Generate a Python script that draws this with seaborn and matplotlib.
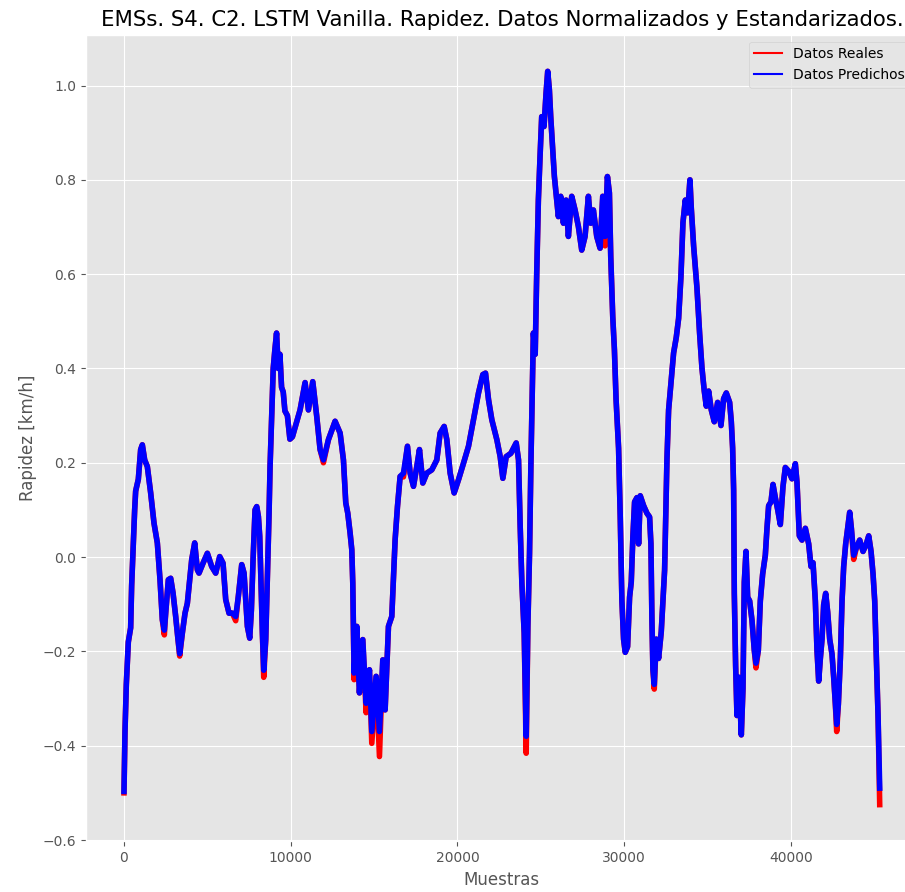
import matplotlib
matplotlib.use("Agg")
import matplotlib.pyplot as plt
import seaborn as sns
import pandas as pd

# Sample index of each traced point
muestras = [
    0, 60, 140, 260, 400, 460, 560, 640, 700, 860, 1000, 1100, 1240, 1400, 1600,
    1800, 2000, 2160, 2300, 2420, 2500, 2660, 2800, 2940, 3100, 3240, 3340, 3500,
    3660, 3800, 3940, 4060, 4240, 4400, 4500, 4740, 5000, 5260, 5500, 5740, 5940,
    6100, 6300, 6500, 6700, 6860, 7060, 7200, 7300, 7400, 7540, 7640, 7740, 7860,
    7960, 8060, 8140, 8220, 8300, 8380, 8500, 8600, 8700, 8760, 8860, 8950, 9050,
    9150, 9250, 9350, 9450, 9550, 9650, 9800, 9950, 10100, 10300, 10560, 10860,
    11060, 11320, 11560, 11760, 11960, 12260, 12660, 12960, 13160, 13300, 13420,
    13560, 13660, 13720, 13800, 13960, 14120, 14320, 14520, 14720, 14860, 15120,
    15320, 15520, 15660, 15860, 16060, 16260, 16400, 16560, 16760, 17000, 17160,
    17360, 17560, 17720, 17920, 18160, 18460, 18760, 18960, 19200, 19360, 19560,
    19800, 20060, 20360, 20660, 20960, 21260, 21520, 21680, 21860, 22060, 22360,
    22560, 22720, 22920, 23200, 23520, 23660, 23760, 23860, 24000, 24120, 24220,
    24320, 24400, 24550, 24660, 24750, 24850, 24950, 25050, 25190, 25310, 25410,
    25510, 25590, 25710, 25810, 25910, 26050, 26190, 26350, 26510, 26650, 26850,
    27050, 27250, 27450, 27650, 27850, 27990, 28150, 28350, 28550, 28710, 28850,
    28990, 29110, 29190, 29310, 29410, 29510, 29660, 29760, 29860, 29960, 30060,
    30200, 30320, 30420, 30520, 30620, 30760, 30860, 30960, 31160, 31360, 31520,
    31600, 31660, 31720, 31800, 31920, 32060, 32220, 32320, 32420, 32500, 32560,
    32660, 32800, 32960, 33120, 33260, 33400, 33520, 33660, 33800, 33940, 34020,
    34160, 34360, 34520, 34660, 34800, 34920, 35060, 35220, 35400, 35600, 35800,
    35960, 36120, 36320, 36420, 36500, 36560, 36600, 36680, 36760, 36880, 37020,
    37120, 37200, 37300, 37400, 37520, 37660, 37800, 37900, 38040, 38160, 38300,
    38460, 38560, 38660, 38800, 38920, 39060, 39200, 39360, 39520, 39660, 39860,
    40060, 40260, 40360, 40500, 40660, 40860, 41060, 41200, 41320, 41460, 41560,
    41660, 41760, 41860, 41960, 42080, 42200, 42320, 42460, 42560, 42660, 42740,
    42840, 42960, 43060, 43160, 43280, 43400, 43520, 43620, 43760, 43920, 44120,
    44320, 44520, 44660, 44800, 44920, 45020, 45120, 45220, 45320,
]

# Model output (normalised speed)
predichos = [
    -0.497, -0.37, -0.27, -0.18, -0.15, -0.06, 0.03, 0.10, 0.14, 0.165, 0.228,
    0.238, 0.206, 0.192, 0.136, 0.072, 0.03, -0.048, -0.133, -0.155, -0.119,
    -0.048, -0.045, -0.076, -0.126, -0.175, -0.205, -0.161, -0.119, -0.098,
    -0.048, -0.006, 0.03, -0.027, -0.034, -0.013, 0.008, -0.02, -0.034, 0.001,
    -0.013, -0.09, -0.119, -0.119, -0.126, -0.083, -0.016, -0.034, -0.09,
    -0.147, -0.172, -0.112, -0.006, 0.10, 0.107, 0.086, 0.044, -0.062, -0.161,
    -0.24, -0.175, -0.041, 0.093, 0.192, 0.30, 0.40, 0.44, 0.475, 0.40, 0.43,
    0.36, 0.35, 0.31, 0.30, 0.25, 0.255, 0.28, 0.312, 0.37, 0.312, 0.372, 0.298,
    0.228, 0.206, 0.249, 0.288, 0.263, 0.206, 0.115, 0.093, 0.051, 0.016,
    -0.055, -0.246, -0.147, -0.288, -0.175, -0.31, -0.239, -0.37, -0.253, -0.37,
    -0.218, -0.324, -0.147, -0.126, 0.037, 0.107, 0.171, 0.178, 0.235, 0.178,
    0.150, 0.192, 0.228, 0.157, 0.178, 0.185, 0.206, 0.263, 0.277, 0.249, 0.178,
    0.136, 0.164, 0.199, 0.235, 0.291, 0.348, 0.387, 0.39, 0.334, 0.291, 0.249,
    0.213, 0.167, 0.213, 0.22, 0.242, 0.206, 0.065, -0.055, -0.161, -0.38,
    -0.147, 0.008, 0.192, 0.475, 0.43, 0.60, 0.757, 0.849, 0.934, 0.913, 0.983,
    1.03, 0.991, 0.934, 0.863, 0.807, 0.772, 0.722, 0.765, 0.708, 0.757, 0.68,
    0.765, 0.736, 0.701, 0.651, 0.68, 0.765, 0.708, 0.736, 0.68, 0.655, 0.765,
    0.68, 0.807, 0.772, 0.637, 0.51, 0.44, 0.334, 0.231, 0.085, -0.093, -0.174,
    -0.202, -0.19, -0.085, -0.053, 0.045, 0.117, 0.126, 0.028, 0.13, 0.109,
    0.093, 0.085, 0.028, -0.134, -0.239, -0.27, -0.174, -0.215, -0.158, -0.093,
    -0.028, 0.109, 0.206, 0.312, 0.368, 0.433, 0.466, 0.506, 0.595, 0.709,
    0.757, 0.73, 0.80, 0.74, 0.66, 0.571, 0.474, 0.401, 0.352, 0.32, 0.352,
    0.312, 0.287, 0.328, 0.279, 0.336, 0.348, 0.328, 0.287, 0.231, 0.142,
    -0.077, -0.231, -0.336, -0.255, -0.377, -0.279, -0.053, 0.012, -0.085,
    -0.093, -0.134, -0.198, -0.225, -0.198, -0.093, -0.036, 0.004, 0.061, 0.109,
    0.117, 0.154, 0.126, 0.101, 0.069, 0.15, 0.19, 0.182, 0.166, 0.198, 0.158,
    0.045, 0.036, 0.061, 0.028, -0.02, -0.012, -0.093, -0.198, -0.263, -0.215,
    -0.174, -0.101, -0.077, -0.117, -0.174, -0.206, -0.255, -0.312, -0.355,
    -0.312, -0.215, -0.093, -0.02, 0.028, 0.061, 0.095, 0.061, 0.004, 0.02,
    0.036, 0.012, 0.028, 0.045, 0.012, -0.036, -0.093, -0.215, -0.336, -0.49,
]

# Measured values (normalised speed); they only part from the model at the dips
reales = list(predichos)
_dips = {
    0: -0.50, 2420: -0.165, 3340: -0.21, 6700: -0.135, 8380: -0.255,
    11960: 0.20, 13800: -0.26, 14520: -0.33, 14860: -0.395, 15320: -0.423,
    16760: 0.17, 24120: -0.416, 28850: 0.66, 31800: -0.28, 37900: -0.235,
    42740: -0.37, 43760: -0.005, 45320: -0.525,
}
for _i, _m in enumerate(muestras):
    if _m in _dips:
        reales[_i] = _dips[_m]

df = pd.DataFrame({"Muestras": muestras, "Reales": reales, "Predichos": predichos})

plt.style.use("ggplot")

fig = plt.figure(figsize=(9.05, 8.92), dpi=100)
ax = fig.add_axes([86.2 / 905, 50.7 / 892, 831.3 / 905, 806.6 / 892])

sns.lineplot(data=df, x="Muestras", y="Reales", color="red", linewidth=4.0,
             label="Datos Reales", estimator=None, ax=ax)
sns.lineplot(data=df, x="Muestras", y="Predichos", color="blue", linewidth=4.0,
             label="Datos Predichos", estimator=None, ax=ax)

ax.set_yticks([-0.6, -0.4, -0.2, 0.0, 0.2, 0.4, 0.6, 0.8, 1.0])
ax.set_title("EMSs. S4. C2. LSTM Vanilla. Rapidez. Datos Normalizados y Estandarizados.",
             fontsize=15.3)
ax.set_xlabel("Muestras")
ax.set_ylabel("Rapidez [km/h]")

leg = ax.legend(loc="upper right")
for line in leg.get_lines():
    line.set_linewidth(1.5)

fig.savefig("out.png", dpi=100)
